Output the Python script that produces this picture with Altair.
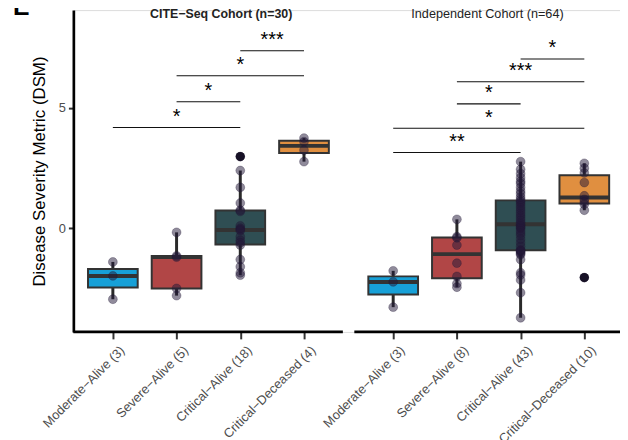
import altair as alt
import pandas as pd
import numpy as np

# ---------------- data ----------------
groups = ["Moderate\u2212Alive", "Severe\u2212Alive", "Critical\u2212Alive", "Critical\u2212Deceased"]
group_colors = ["#17a0d7", "#b14646", "#2f4e53", "#e08f40"]
cohort_titles = ["CITE\u2212Seq Cohort (n=30)", "Independent Cohort (n=64)"]

cite_moderate = [-1.40, -1.98, -2.95]
cite_severe = [-0.17, -1.15, -1.20, -2.50, -2.80]
cite_critical_alive = [2.98, 2.40, 1.70, 1.05, 0.75, 0.70, 0.10, 0.00, -0.05, -0.10,
                       -0.35, -0.50, -0.60, -0.70, -1.30, -1.60, -1.85, -1.95]
cite_critical_deceased = [2.77, 3.25, 3.60, 3.75]

indep_moderate = [-1.77, -2.23, -3.28]
indep_severe = [0.37, -0.35, -0.40, -0.70, -1.45, -2.00, -2.30, -2.45]
indep_critical_alive = [-3.72, -2.68, -2.15, -1.94, -1.85, -1.30, -1.10, -1.05, -1.00, -0.95,
                        -0.92, -0.90, -0.75, -0.60, -0.45, -0.30, -0.20, -0.10, 0.00, 0.05,
                        0.10, 0.17, 0.25, 0.35, 0.45, 0.55, 0.65, 0.75, 0.85, 0.95,
                        1.05, 1.12, 1.20, 1.30, 1.44, 1.55, 1.70, 1.86, 1.95, 2.10,
                        2.27, 2.45, 2.77]
indep_critical_deceased = [2.70, 2.50, 2.30, 1.90, 1.35, 1.20, 1.10, 1.00, 0.75, -2.05]

cite_bracket_from = [0, 1, 1, 2]
cite_bracket_to = [2, 2, 3, 3]
cite_bracket_y = [4.19, 5.26, 6.34, 7.38]
cite_bracket_label = ["*", "*", "*", "***"]

indep_bracket_from = [0, 0, 1, 1, 2]
indep_bracket_to = [2, 3, 2, 3, 3]
indep_bracket_y = [3.15, 4.16, 5.17, 6.09, 7.04]
indep_bracket_label = ["**", "*", "*", "***", "*"]

# ---------------- layout constants ----------------
FONT = "Liberation Sans"
PANEL_OFFSET = [0.0, 4.4]          # x offset of each panel (category units)
BOX_HALF = 0.39
XDOM = [0.38, 8.96]
YDOM = [-4.31, 9.07]
PANEL_X = [(0.38, 4.61), (4.79, 9.2)]
TITLE_X = [2.70, 6.88]

cohort_values = [
    [cite_moderate, cite_severe, cite_critical_alive, cite_critical_deceased],
    [indep_moderate, indep_severe, indep_critical_alive, indep_critical_deceased],
]
brackets = [
    (cite_bracket_from, cite_bracket_to, cite_bracket_y, cite_bracket_label),
    (indep_bracket_from, indep_bracket_to, indep_bracket_y, indep_bracket_label),
]

pts, stats, outl, brk = [], [], [], []
tick_pos, tick_lab = [], []
for c, vals_list in enumerate(cohort_values):
    for g, vals in enumerate(vals_list):
        pos = g + 1 + PANEL_OFFSET[c]
        tick_pos.append(pos)
        tick_lab.append(f"{groups[g]} ({len(vals)})")
        v = np.array(vals, dtype=float)
        q1, med, q3 = np.quantile(v, [0.25, 0.5, 0.75])
        iqr = q3 - q1
        inside = v[(v >= q1 - 1.5 * iqr) & (v <= q3 + 1.5 * iqr)]
        stats.append(dict(group=groups[g], pos=pos, x0=pos - BOX_HALF, x1=pos + BOX_HALF,
                          q1=q1, med=med, q3=q3, lo=inside.min(), hi=inside.max()))
        for val in v:
            pts.append(dict(group=groups[g], pos=pos, value=val))
            if val < q1 - 1.5 * iqr or val > q3 + 1.5 * iqr:
                outl.append(dict(pos=pos, value=val))
    fr, to, ys, labs = brackets[c]
    for a, b, yv, lab in zip(fr, to, ys, labs):
        xa = a + 1 + PANEL_OFFSET[c]
        xb = b + 1 + PANEL_OFFSET[c]
        brk.append(dict(xa=xa, xb=xb, xm=(xa + xb) / 2, y=yv, label=lab))

df_pts = pd.DataFrame(pts)
df_stats = pd.DataFrame(stats)
df_out = pd.DataFrame(outl)
df_brk = pd.DataFrame(brk)
df_axis = pd.DataFrame([dict(xa=a, xb=b, y=YDOM[0]) for a, b in PANEL_X])
df_titles = pd.DataFrame(dict(x=TITLE_X, title=cohort_titles,
                              weight=["bold", "normal"]))

label_expr = " : ".join(
    f"abs(datum.value - {p}) < 0.01 ? '{l}'" for p, l in zip(tick_pos, tick_lab)
) + " : ''"

xscale = alt.Scale(domain=XDOM, nice=False, zero=False)
yscale = alt.Scale(domain=YDOM, nice=False, zero=False)

xaxis = alt.Axis(values=tick_pos, labelExpr=label_expr, domain=False, grid=False,
                 ticks=True, tickSize=7, tickWidth=2, tickColor="#333333",
                 labelAngle=315, labelAlign="right", labelBaseline="top", labelPadding=5,
                 labelOffset=5, labelFontSize=13, labelColor="#4d4d4d", labelFont=FONT,
                 labelOverlap=False, labelBound=False, labelFlush=False, title=None)
yaxis = alt.Axis(values=[0, 5], format="d", grid=False, domain=True, domainColor="black",
                 domainWidth=2.7, ticks=True, tickSize=5, tickWidth=2, tickColor="#333333",
                 labelFontSize=13, labelColor="#4d4d4d", labelFont=FONT, labelPadding=3,
                 title="Disease Severity Metric (DSM)", titleFontSize=17,
                 titleFontWeight="normal", titleColor="black", titleFont=FONT,
                 titlePadding=10)


def X(f):
    return alt.X(f, type="quantitative", scale=xscale, axis=xaxis)


def Y(f):
    return alt.Y(f, type="quantitative", scale=yscale, axis=yaxis)


color = alt.Color("group:N", scale=alt.Scale(domain=groups, range=group_colors), legend=None)

xline = alt.Chart(df_axis).mark_rule(color="black", strokeWidth=2.7).encode(
    x=X("xa"), x2="xb", y=Y("y"))

whisk = alt.Chart(df_stats).mark_rule(color="#2a2a2a", strokeWidth=3).encode(
    x=X("pos"), y=Y("lo"), y2="hi")

boxes = alt.Chart(df_stats).mark_rect(stroke="#333333", strokeWidth=2).encode(
    x=X("x0"), x2="x1", y=Y("q1"), y2="q3", fill=color)

median = alt.Chart(df_stats).mark_rule(color="#333333", strokeWidth=4).encode(
    x=X("x0"), x2="x1", y=Y("med"))

outliers = alt.Chart(df_out).mark_circle(size=85, color="#0d0a14", opacity=1).encode(
    x=X("pos"), y=Y("value"))

points = alt.Chart(df_pts).mark_point(filled=True, size=80, fill="#211737", fillOpacity=0.5,
                                      stroke="#211737", strokeOpacity=0.3,
                                      strokeWidth=1).encode(
    x=X("pos"), y=Y("value"))

brk_lines = alt.Chart(df_brk).mark_rule(color="#111111", strokeWidth=1.1).encode(
    x=X("xa"), x2="xb", y=Y("y"))

brk_text = alt.Chart(df_brk).mark_text(fontSize=20, font=FONT, color="black",
                                       baseline="alphabetic", dy=-4.5).encode(
    x=X("xm"), y=Y("y"), text="label:N")

titles_bold = alt.Chart(df_titles[df_titles.weight == "bold"]).mark_text(
    fontSize=12.5, font=FONT, fontWeight="bold", color="#222222", baseline="middle").encode(
    x=X("x"), y=alt.value(4), text="title:N")
titles_norm = alt.Chart(df_titles[df_titles.weight == "normal"]).mark_text(
    fontSize=12.8, font=FONT, fontWeight="normal", color="#222222", baseline="middle").encode(
    x=X("x"), y=alt.value(4), text="title:N")

panel_letter = alt.Chart(pd.DataFrame(dict(t=["E"]))).mark_text(
    fontSize=25, font=FONT, fontWeight="bold", color="black", align="left",
    baseline="alphabetic").encode(x=alt.value(-61), y=alt.value(5), text="t:N")

chart = alt.layer(
    xline, whisk, boxes, median, outliers, points, brk_lines, brk_text,
    titles_bold, titles_norm, panel_letter
).properties(
    width=552, height=325,
    padding={"left": 66, "top": 0, "right": 0, "bottom": 107},
    autosize=alt.AutoSizeParams(type="none"),
).configure_view(strokeWidth=0).configure(background="white")

chart.save("out.html", embed_options={"renderer": "svg", "actions": False})
